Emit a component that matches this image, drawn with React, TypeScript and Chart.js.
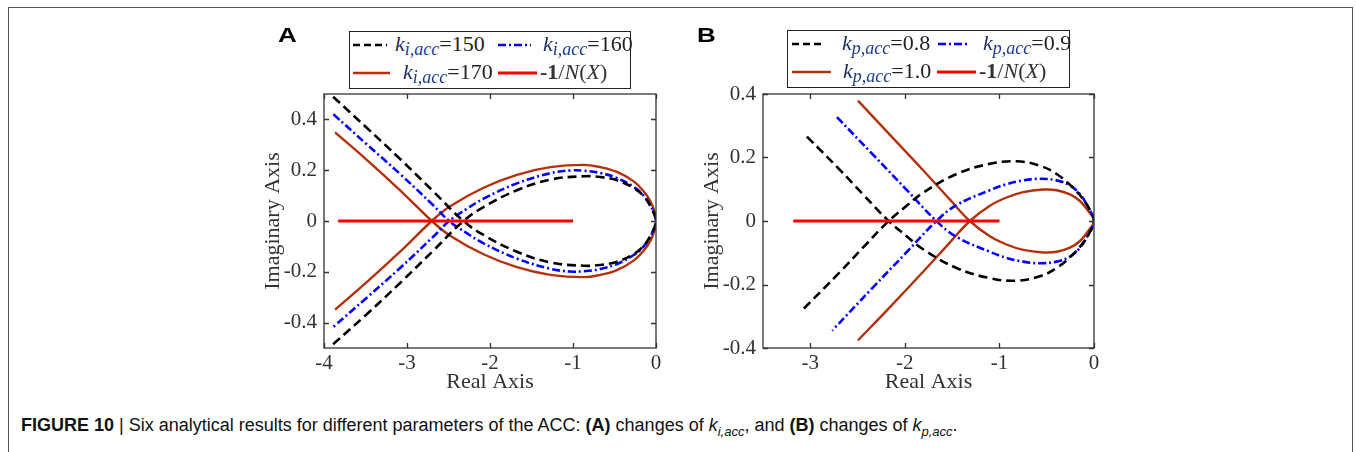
import React, { useEffect, useRef } from "react";
import { Chart, registerables } from "chart.js";
Chart.register(...registerables);

// ---------- Panel A: changes of k_i,acc ----------
const A_X_TICKS = [-4, -3, -2, -1, 0];
const A_X_LABELS = ["-4", "-3", "-2", "-1", "0"];
const A_Y_TICKS = [-0.4, -0.2, 0, 0.2, 0.4];
const A_Y_LABELS = ["-0.4", "-0.2", "0", "0.2", "0.4"];

const A_X_150 = [-3.89, -3.485, -3.083, -2.681, -2.32, -2.078, -1.676, -1.274, -0.872, -0.671, -0.47, -0.269, -0.149, -0.068, -0.02, 0, -0.02, -0.068, -0.149, -0.269, -0.47, -0.671, -0.872, -1.274, -1.676, -2.078, -2.32, -2.681, -3.083, -3.485, -3.89];
const A_Y_150 = [0.489, 0.367, 0.244, 0.116, 0, -0.055, -0.121, -0.163, -0.176, -0.173, -0.16, -0.13, -0.098, -0.059, -0.026, 0, 0.026, 0.059, 0.098, 0.13, 0.16, 0.173, 0.176, 0.163, 0.121, 0.055, 0, -0.116, -0.244, -0.367, -0.485];

const A_X_160 = [-3.887, -3.485, -3.083, -2.681, -2.492, -2.279, -2.078, -1.676, -1.274, -1.033, -0.872, -0.671, -0.47, -0.269, -0.149, -0.068, -0.02, 0, -0.02, -0.068, -0.149, -0.269, -0.47, -0.671, -0.872, -1.033, -1.274, -1.676, -2.078, -2.279, -2.492, -2.681, -3.083, -3.485, -3.887];
const A_Y_160 = [0.42, 0.302, 0.185, 0.061, 0, -0.048, -0.088, -0.148, -0.188, -0.199, -0.198, -0.189, -0.169, -0.134, -0.1, -0.061, -0.026, 0, 0.026, 0.061, 0.1, 0.134, 0.169, 0.189, 0.198, 0.199, 0.188, 0.148, 0.088, 0.048, 0, -0.061, -0.185, -0.302, -0.417];

const A_X_170 = [-3.867, -3.485, -3.083, -2.701, -2.48, -2.078, -1.676, -1.274, -0.872, -0.671, -0.47, -0.269, -0.149, -0.068, -0.02, 0, -0.02, -0.068, -0.149, -0.269, -0.47, -0.671, -0.872, -1.274, -1.676, -2.078, -2.48, -2.701, -3.083, -3.485, -3.867];
const A_Y_170 = [0.349, 0.241, 0.121, 0, -0.058, -0.131, -0.182, -0.212, -0.221, -0.212, -0.193, -0.156, -0.117, -0.078, -0.039, 0, 0.039, 0.078, 0.117, 0.156, 0.193, 0.212, 0.221, 0.212, 0.182, 0.131, 0.058, 0, -0.121, -0.241, -0.349];

const A_NX_X = [-3.83, -1.0];
const A_NX_Y = [0, 0];

// ---------- Panel B: changes of k_p,acc ----------
const B_X_TICKS = [-3, -2, -1, 0];
const B_X_LABELS = ["-3", "-2", "-1", "0"];
const B_Y_TICKS = [-0.4, -0.2, 0, 0.2, 0.4];
const B_Y_LABELS = ["-0.4", "-0.2", "0", "0.2", "0.4"];

const B_X_08 = [-3.036, -2.69, -2.443, -2.171, -1.984, -1.807, -1.454, -1.101, -0.819, -0.572, -0.395, -0.219, -0.113, -0.042, 0, -0.042, -0.113, -0.219, -0.395, -0.572, -0.819, -1.101, -1.454, -1.807, -1.984, -2.171, -2.443, -2.69, -3.089];
const B_Y_08 = [0.266, 0.162, 0.084, 0, -0.047, -0.089, -0.148, -0.18, -0.188, -0.174, -0.148, -0.104, -0.068, -0.034, 0, 0.034, 0.068, 0.104, 0.148, 0.174, 0.188, 0.18, 0.148, 0.089, 0.047, 0, -0.084, -0.162, -0.282];

const B_X_09 = [-2.718, -2.337, -1.984, -1.666, -1.454, -1.101, -0.925, -0.748, -0.572, -0.395, -0.254, -0.148, -0.06, 0, -0.06, -0.148, -0.254, -0.395, -0.572, -0.748, -0.925, -1.101, -1.454, -1.666, -1.984, -2.337, -2.767];
const B_Y_09 = [0.327, 0.209, 0.099, 0, -0.05, -0.097, -0.116, -0.128, -0.133, -0.128, -0.112, -0.084, -0.042, 0, 0.042, 0.084, 0.112, 0.128, 0.133, 0.128, 0.116, 0.097, 0.05, 0, -0.099, -0.209, -0.345];

const B_X_10 = [-2.496, -2.16, -1.807, -1.525, -1.313, -1.101, -0.925, -0.748, -0.537, -0.395, -0.254, -0.148, -0.06, 0, -0.06, -0.148, -0.254, -0.395, -0.537, -0.748, -0.925, -1.101, -1.313, -1.525, -1.807, -2.16, -2.496];
const B_Y_10 = [0.379, 0.272, 0.16, 0.068, 0, -0.048, -0.074, -0.091, -0.099, -0.097, -0.084, -0.063, -0.031, 0, 0.031, 0.063, 0.084, 0.097, 0.099, 0.091, 0.074, 0.048, 0, -0.068, -0.16, -0.272, -0.376];

const B_NX_X = [-3.18, -1.0];
const B_NX_Y = [0, 0];

// ---------- styles ----------
const BLACK = "#000000";
const BLUE = "#0000ff";
const BROWN = "#b3310c";
const RED = "#ff0000";
const SERIF = "'Liberation Serif', 'Times New Roman', serif";
const SANS = "'Liberation Sans', Arial, sans-serif";

const pts = (xs: number[], ys: number[]) => xs.map((x, i) => ({ x, y: ys[i] }));

const frameTicks = {
  id: "frameTicks",
  afterDatasetsDraw(chart: any) {
    const { ctx, chartArea } = chart;
    const { left, right, top, bottom } = chartArea;
    const xs = chart.scales.x;
    const ys = chart.scales.y;
    ctx.save();
    ctx.strokeStyle = "#333333";
    ctx.lineWidth = 1.3;
    ctx.strokeRect(left, top, right - left, bottom - top);
    const L = 5;
    ctx.beginPath();
    xs.ticks.forEach((t: any) => {
      const p = Math.round(xs.getPixelForValue(t.value)) + 0.5;
      ctx.moveTo(p, bottom);
      ctx.lineTo(p, bottom - L);
      ctx.moveTo(p, top);
      ctx.lineTo(p, top + L);
    });
    ys.ticks.forEach((t: any) => {
      const p = Math.round(ys.getPixelForValue(t.value)) + 0.5;
      ctx.moveTo(left, p);
      ctx.lineTo(left + L, p);
      ctx.moveTo(right, p);
      ctx.lineTo(right - L, p);
    });
    ctx.stroke();
    ctx.restore();
  },
};

type Panel = {
  xMin: number; xMax: number; yMin: number; yMax: number;
  xTicks: number[]; xLabels: string[]; yTicks: number[]; yLabels: string[];
  series: { xs: number[]; ys: number[]; color: string; width: number; dash: number[] }[];
};

const PANEL_A: Panel = {
  xMin: -4, xMax: 0, yMin: -0.5, yMax: 0.5,
  xTicks: A_X_TICKS, xLabels: A_X_LABELS, yTicks: A_Y_TICKS, yLabels: A_Y_LABELS,
  series: [
    { xs: A_NX_X, ys: A_NX_Y, color: RED, width: 3, dash: [] },
    { xs: A_X_150, ys: A_Y_150, color: BLACK, width: 2.6, dash: [9, 5] },
    { xs: A_X_160, ys: A_Y_160, color: BLUE, width: 2.6, dash: [8, 3, 2, 3] },
    { xs: A_X_170, ys: A_Y_170, color: BROWN, width: 2.4, dash: [] },
  ],
};

const PANEL_B: Panel = {
  xMin: -3.5, xMax: 0, yMin: -0.4, yMax: 0.4,
  xTicks: B_X_TICKS, xLabels: B_X_LABELS, yTicks: B_Y_TICKS, yLabels: B_Y_LABELS,
  series: [
    { xs: B_NX_X, ys: B_NX_Y, color: RED, width: 3, dash: [] },
    { xs: B_X_08, ys: B_Y_08, color: BLACK, width: 2.6, dash: [9, 5] },
    { xs: B_X_09, ys: B_Y_09, color: BLUE, width: 2.6, dash: [8, 3, 2, 3] },
    { xs: B_X_10, ys: B_Y_10, color: BROWN, width: 2.4, dash: [] },
  ],
};

function PlotCanvas({ panel, left, width }: { panel: Panel; left: number; width: number }) {
  const ref = useRef<HTMLCanvasElement | null>(null);
  useEffect(() => {
    if (!ref.current) return;
    const chart = new Chart(ref.current, {
      type: "scatter",
      data: {
        datasets: panel.series.map((s) => ({
          data: pts(s.xs, s.ys),
          showLine: true,
          borderColor: s.color,
          backgroundColor: s.color,
          borderWidth: s.width,
          borderDash: s.dash,
          pointRadius: 0,
          tension: 0.4,
          fill: false,
        })),
      },
      options: {
        responsive: false,
        animation: false,
        layout: { padding: { top: 34, right: 24, left: 0, bottom: 0 } },
        plugins: { legend: { display: false }, tooltip: { enabled: false } },
        scales: {
          x: {
            type: "linear",
            min: panel.xMin,
            max: panel.xMax,
            grid: { display: false, drawTicks: false },
            border: { display: false },
            afterBuildTicks: (axis: any) => { axis.ticks = panel.xTicks.map((v) => ({ value: v })); },
            afterFit: (axis: any) => { axis.height = 52; },
            ticks: {
              autoSkip: false,
              padding: 3,
              color: "#333333",
              font: { family: SERIF, size: 21 },
              callback: (v: any) => { const i = panel.xTicks.indexOf(Number(v)); return i >= 0 ? panel.xLabels[i] : ""; },
            },
            title: { display: true, text: "Real Axis", color: "#333333", font: { family: SERIF, size: 22 }, padding: { top: 0, bottom: 5 } },
          },
          y: {
            type: "linear",
            min: panel.yMin,
            max: panel.yMax,
            grid: { display: false, drawTicks: false },
            border: { display: false },
            afterBuildTicks: (axis: any) => { axis.ticks = panel.yTicks.map((v) => ({ value: v })); },
            afterFit: (axis: any) => { axis.width = 74; },
            ticks: {
              autoSkip: false,
              padding: 7,
              color: "#333333",
              font: { family: SERIF, size: 21 },
              callback: (v: any) => { const i = panel.yTicks.findIndex((t) => Math.abs(t - Number(v)) < 1e-9); return i >= 0 ? panel.yLabels[i] : ""; },
            },
            title: { display: true, text: "Imaginary Axis", color: "#333333", font: { family: SERIF, size: 22 }, padding: { top: 10, bottom: 0 } },
          },
        },
      },
      plugins: [frameTicks],
    } as any);
    return () => chart.destroy();
  }, [panel]);
  return (
    <canvas
      ref={ref}
      width={width}
      height={340}
      style={{ position: "absolute", left, top: 60, width, height: 340 }}
    />
  );
}

function Sample({ color, dash, width, len }: { color: string; dash: string; width: number; len: number }) {
  return (
    <svg width={len} height={10} style={{ display: "block" }}>
      <line x1={0} y1={5} x2={len} y2={5} stroke={color} strokeWidth={width} strokeDasharray={dash} />
    </svg>
  );
}

function KLabel({ sub, val }: { sub: string; val: string }) {
  return (
    <span style={{ fontFamily: SERIF, fontSize: 22, color: "#222", whiteSpace: "nowrap" }}>
      <i style={{ color: "#1f2f5f" }}>k</i>
      <i style={{ fontSize: 18, color: "#1d3c8c", position: "relative", top: 4 }}>{sub}</i>
      <span>={val}</span>
    </span>
  );
}

function NLabel() {
  return (
    <span style={{ fontFamily: SERIF, fontSize: 22, color: "#333", whiteSpace: "nowrap" }}>
      <b>-1</b>/<i>N</i>(<i>X</i>)
    </span>
  );
}

type Item = { sx: number; sl: number; tx: number; row: number; color: string; dash: string; w: number; label: React.ReactNode };

function Legend({ left, top, width, height, items }: { left: number; top: number; width: number; height: number; items: Item[] }) {
  const rowY = [13, 41];
  return (
    <div style={{ position: "absolute", left, top, width, height, border: "1.5px solid #222", boxSizing: "border-box", background: "#fff" }}>
      {items.map((it, i) => (
        <React.Fragment key={i}>
          <div style={{ position: "absolute", left: it.sx, top: rowY[it.row] - 5 }}>
            <Sample color={it.color} dash={it.dash} width={it.w} len={it.sl} />
          </div>
          <div style={{ position: "absolute", left: it.tx, top: rowY[it.row] - 14, lineHeight: "26px" }}>{it.label}</div>
        </React.Fragment>
      ))}
    </div>
  );
}

const LEGEND_A: Item[] = [
  { sx: 3, sl: 34, tx: 45, row: 0, color: BLACK, dash: "7 4", w: 2.6, label: <KLabel sub="i,acc" val="150" /> },
  { sx: 148, sl: 33, tx: 193, row: 0, color: BLUE, dash: "8 3 2 3", w: 2.6, label: <KLabel sub="i,acc" val="160" /> },
  { sx: 3, sl: 37, tx: 53, row: 1, color: BROWN, dash: "", w: 2.4, label: <KLabel sub="i,acc" val="170" /> },
  { sx: 148, sl: 39, tx: 190, row: 1, color: RED, dash: "", w: 3, label: <NLabel /> },
];

const LEGEND_B: Item[] = [
  { sx: 4, sl: 32, tx: 54, row: 0, color: BLACK, dash: "7 4", w: 2.6, label: <KLabel sub="p,acc" val="0.8" /> },
  { sx: 150, sl: 31, tx: 195, row: 0, color: BLUE, dash: "8 3 2 3", w: 2.6, label: <KLabel sub="p,acc" val="0.9" /> },
  { sx: 4, sl: 39, tx: 55, row: 1, color: BROWN, dash: "", w: 2.4, label: <KLabel sub="p,acc" val="1.0" /> },
  { sx: 149, sl: 39, tx: 191, row: 1, color: RED, dash: "", w: 3, label: <NLabel /> },
];

export default function App() {
  const panelLabel: React.CSSProperties = {
    position: "absolute", top: 23, fontFamily: SANS, fontWeight: "bold", fontSize: 20,
    lineHeight: "24px", transform: "scaleX(1.3)", transformOrigin: "left top", color: "#000",
  };
  return (
    <div style={{ position: "absolute", left: 0, top: 0, width: 1356, height: 452, overflow: "hidden", background: "#fff" }}>
      <div style={{ position: "absolute", left: 8, top: 7, width: 1345, height: 470, border: "1.5px solid #555", borderBottom: "none", boxSizing: "border-box" }} />
      <PlotCanvas panel={PANEL_A} left={250} width={430} />
      <PlotCanvas panel={PANEL_B} left={689} width={429} />
      <Legend left={349} top={31} width={282} height={58} items={LEGEND_A} />
      <Legend left={787} top={30} width={283} height={58} items={LEGEND_B} />
      <div style={{ ...panelLabel, left: 278 }}>A</div>
      <div style={{ ...panelLabel, left: 697 }}>B</div>
      <div style={{ position: "absolute", left: 21, top: 414, fontFamily: SANS, fontSize: 18, lineHeight: "22px", color: "#111", whiteSpace: "nowrap" }}>
        <b>FIGURE 10</b> | Six analytical results for different parameters of the ACC: <b>(A)</b> changes of <i>k</i>
        <sub style={{ fontSize: 13 }}><i>i,acc</i></sub>, and <b>(B)</b> changes of <i>k</i>
        <sub style={{ fontSize: 13 }}><i>p,acc</i></sub>.
      </div>
    </div>
  );
}
